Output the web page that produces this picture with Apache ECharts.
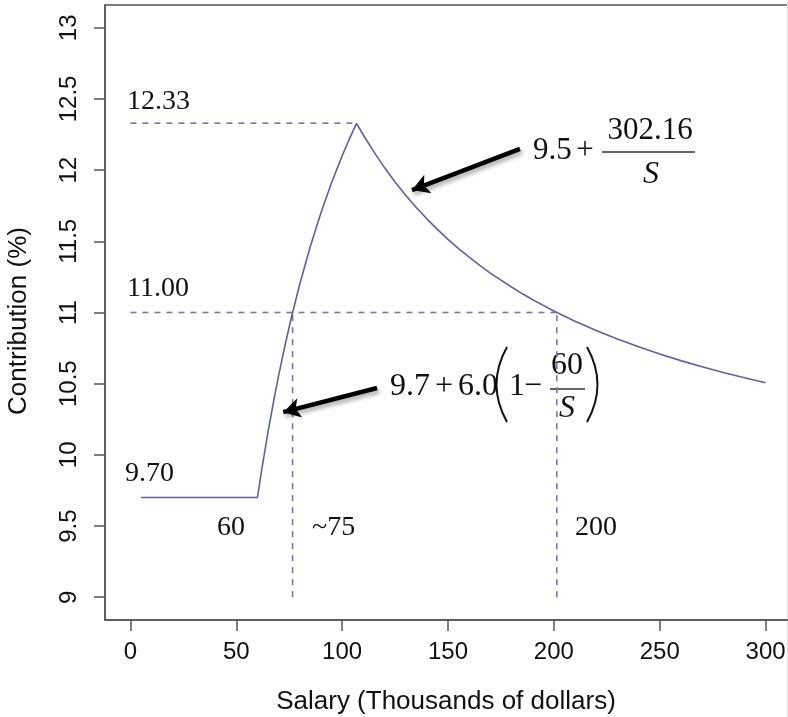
<!DOCTYPE html>
<html>
<head>
<meta charset="utf-8">
<script src="https://cdn.jsdelivr.net/npm/echarts@6/dist/echarts.min.js"></script>
<style>
  html, body { margin: 0; padding: 0; background: #fff; }
  #chart { width: 788px; height: 717px; }
</style>
</head>
<body>
<div id="chart"></div>
<script>
// ---- data ----
const salary = [5, 60, 62, 65, 68, 70, 73, 76, 80, 85, 90, 95, 100, 103, 106.8,
  110, 115, 120, 125, 130, 135, 140, 145, 150, 155, 160, 165, 170, 175, 180, 185, 190, 195, 200,
  210, 220, 230, 240, 250, 260, 270, 280, 290, 300];
const contribution = [9.700, 9.700, 9.894, 10.162, 10.406, 10.557, 10.768, 10.963, 11.200, 11.465, 11.700, 11.911, 12.100, 12.205, 12.329,
  12.247, 12.128, 12.018, 11.917, 11.824, 11.738, 11.658, 11.584, 11.514, 11.449, 11.389, 11.331, 11.277, 11.227, 11.179, 11.133, 11.090, 11.050, 11.011,
  10.939, 10.873, 10.814, 10.759, 10.709, 10.662, 10.619, 10.579, 10.542, 10.507];

const xTicks = [0, 50, 100, 150, 200, 250, 300];
const yTicks = [9, 9.5, 10, 10.5, 11, 11.5, 12, 12.5, 13];

// dashed reference segments: [x1, y1, x2, y2]
const refPeak = [0, 12.33, 106.8, 12.33];
const ref11 = [0, 11.00, 201.4, 11.00];
const refLow = [76.6, 9.0, 76.6, 11.00];
const refHigh = [201.4, 9.0, 201.4, 11.00];

// arrows: [fromX, fromY, toX, toY]
const arrowFall = [184, 12.15, 133, 11.86];
const arrowRise = [116.5, 10.47, 72.2, 10.30];

const lineColor = '#5E5EAA';
const dashColor = '#7474B8';
const axisColor = '#555555';
const serif = '"Liberation Serif", "Times New Roman", Times, serif';
const sans = '"Liberation Sans", Arial, Helvetica, sans-serif';

const chart = echarts.init(document.getElementById('chart'), null, { renderer: 'canvas' });

function seg(a) { return [[a[0], a[1]], [a[2], a[3]]]; }
function dashSeries(a) {
  return {
    type: 'line', data: seg(a), showSymbol: false, silent: true, z: 2,
    lineStyle: { color: dashColor, width: 1.6, type: [6, 6] }
  };
}

function txt(text, x, y, size, opts) {
  return Object.assign({
    type: 'text', x: x, y: y, silent: true,
    style: Object.assign({
      text: text, fontFamily: serif, fontSize: size, fill: '#111',
      textAlign: 'left', textVerticalAlign: 'middle'
    }, (opts && opts.style) || {})
  }, (opts && opts.el) || {});
}

const option = {
  animation: false,
  backgroundColor: '#ffffff',
  grid: {
    left: 105, top: 5, right: -3, bottom: 97,
    show: true, borderColor: axisColor, borderWidth: 1.5,
    outerBoundsMode: 'none', containLabel: false
  },
  xAxis: {
    type: 'value', min: -12, max: 312,
    axisLine: { show: true, onZero: false, lineStyle: { color: axisColor, width: 1.5 } },
    axisTick: { show: true, length: 11, customValues: xTicks, lineStyle: { color: axisColor, width: 1.5 } },
    axisLabel: { customValues: xTicks, margin: 20, fontSize: 24, fontFamily: sans, color: '#111' },
    splitLine: { show: false }
  },
  yAxis: {
    type: 'value', min: 8.84, max: 13.16,
    axisLine: { show: true, onZero: false, lineStyle: { color: axisColor, width: 1.5 } },
    axisTick: { show: true, length: 11, customValues: yTicks, lineStyle: { color: axisColor, width: 1.5 } },
    axisLabel: { customValues: yTicks, rotate: 90, margin: 24, fontSize: 24, fontFamily: sans, color: '#111' },
    splitLine: { show: false }
  },
  series: [
    dashSeries(refPeak),
    dashSeries(ref11),
    dashSeries(refLow),
    dashSeries(refHigh),
    {
      type: 'line', z: 3,
      data: salary.map((s, i) => [s, contribution[i]]),
      showSymbol: false, smooth: false,
      lineStyle: { color: lineColor, width: 1.6 },
      markLine: {
        silent: true, animation: false,
        symbol: ['none', 'arrow'], symbolSize: [15, 17],
        label: { show: false },
        lineStyle: {
          color: '#000', width: 4.5, type: 'solid',
          shadowColor: 'rgba(0,0,0,0.35)', shadowBlur: 4, shadowOffsetX: 2, shadowOffsetY: 3
        },
        data: [
          [{ coord: [arrowFall[0], arrowFall[1]] }, { coord: [arrowFall[2], arrowFall[3]] }],
          [{ coord: [arrowRise[0], arrowRise[1]] }, { coord: [arrowRise[2], arrowRise[3]] }]
        ]
      }
    }
  ],
  graphic: [
    // axis titles
    txt('Salary (Thousands of dollars)', 446, 702, 26, { style: { fontFamily: sans, textAlign: 'center' } }),
    txt('Contribution (%)', 19, 321, 26, { style: { fontFamily: sans, textAlign: 'center' }, el: { rotation: Math.PI / 2 } }),
    // value annotations
    txt('12.33', 127, 102, 28),
    txt('11.00', 127, 288.5, 28),
    txt('9.70', 125, 473.5, 28),
    txt('60', 217, 527.5, 28),
    txt('~75', 312, 527.5, 28),
    txt('200', 575, 527.5, 28),
    // equation 1: 9.5 + 302.16 / S
    txt('9.5', 533, 150.5, 31),
    txt('+', 585, 150.5, 31, { style: { textAlign: 'center' } }),
    { type: 'line', silent: true, shape: { x1: 602, y1: 152, x2: 695, y2: 152 }, style: { stroke: '#333', lineWidth: 1.6 } },
    txt('302.16', 650, 130.5, 31, { style: { textAlign: 'center' } }),
    txt('S', 651, 174.5, 32, { style: { textAlign: 'center', fontStyle: 'italic' } }),
    // equation 2: 9.7 + 6.0 (1 - 60 / S)
    txt('9.7', 390, 387, 32),
    txt('+', 444, 387, 32, { style: { textAlign: 'center' } }),
    txt('6.0', 458, 387, 32),
    { type: 'bezierCurve', silent: true,
      shape: { x1: 507, y1: 347, x2: 507, y2: 422, cpx1: 486, cpy1: 384.5 },
      style: { stroke: '#111', lineWidth: 2, fill: null } },
    txt('1', 509, 387, 32),
    txt('\u2212', 533, 387, 32, { style: { textAlign: 'center' } }),
    { type: 'line', silent: true, shape: { x1: 550, y1: 389, x2: 585, y2: 389 }, style: { stroke: '#333', lineWidth: 1.6 } },
    txt('60', 567, 366, 32, { style: { textAlign: 'center' } }),
    txt('S', 567, 409, 32, { style: { textAlign: 'center', fontStyle: 'italic' } }),
    { type: 'bezierCurve', silent: true,
      shape: { x1: 587, y1: 347, x2: 587, y2: 422, cpx1: 608, cpy1: 384.5 },
      style: { stroke: '#111', lineWidth: 2, fill: null } },
    // faint right edge of the image
    { type: 'line', silent: true, shape: { x1: 787.5, y1: 0, x2: 787.5, y2: 717 }, style: { stroke: '#e2e2e2', lineWidth: 1 } }
  ]
};

chart.setOption(option);
</script>
</body>
</html>
